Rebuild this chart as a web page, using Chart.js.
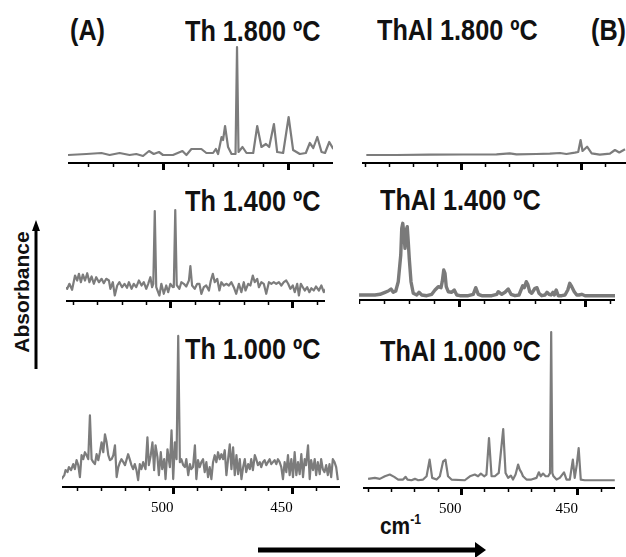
<!DOCTYPE html>
<html>
<head>
<meta charset="utf-8">
<script src="https://cdn.jsdelivr.net/npm/chart.js@4.4.0/dist/chart.umd.min.js"></script>
<style>
  html, body { margin: 0; padding: 0; background: #fff; }
  body { width: 626px; height: 557px; position: relative; overflow: hidden; font-family: "Liberation Sans", Arial, sans-serif; }
  canvas { position: absolute; }
  .lbl { position: absolute; font-weight: bold; font-size: 29px; line-height: 29px; white-space: nowrap; color: #111;
         transform: scaleX(0.87); transform-origin: 0 0; }
  .ylab { position: absolute; left: 21px; top: 292px; font-weight: bold; font-size: 21px; line-height: 21px; white-space: nowrap; color: #111;
          transform: translate(-50%, -50%) rotate(-90deg); }
  .xlab { position: absolute; left: 380px; top: 514px; font-weight: bold; font-size: 24px; line-height: 24px; white-space: nowrap; color: #111;
          transform: scaleX(0.87); transform-origin: 0 0; }
  .xlab sup { font-size: 14px; vertical-align: 10px; line-height: 0; }
  svg { position: absolute; left: 0; top: 0; }
</style>
</head>
<body>

<div class="lbl" style="left:70px;top:16px">(A)</div>
<div class="lbl" style="left:185px;top:17px">Th 1.800 ºC</div>
<div class="lbl" style="left:377px;top:16px">ThAl 1.800 ºC</div>
<div class="lbl" style="left:591px;top:16px">(B)</div>
<div class="lbl" style="left:185px;top:187px">Th 1.400 ºC</div>
<div class="lbl" style="left:380px;top:186px">ThAl 1.400 ºC</div>
<div class="lbl" style="left:185px;top:335px">Th 1.000 ºC</div>
<div class="lbl" style="left:380px;top:337px">ThAl 1.000 ºC</div>
<div class="ylab">Absorbance</div>
<div class="xlab">cm<sup>-1</sup></div>

<svg width="626" height="557">
  <line x1="36" y1="369" x2="36" y2="229" stroke="#000" stroke-width="3"/>
  <polygon points="36,220 32,231 40,231" fill="#000"/>
  <line x1="258" y1="550" x2="478" y2="550" stroke="#000" stroke-width="5"/>
  <polygon points="486,550 475,542 475,558" fill="#000"/>
</svg>

<script>
// wavenumbers (cm-1) and absorbance (a.u.)
const th1800Wave = [538.4, 531.0, 525.0, 521.7, 517.7, 513.7, 511.0, 508.3, 505.9, 504.0, 501.9, 500.3, 496.3, 492.5, 490.9, 488.9, 486.9, 484.9, 482.9, 480.2, 479.1, 478.2, 476.8, 476.2, 475.4, 474.2, 472.8, 471.2, 470.6, 470.0, 468.4, 466.8, 464.1, 462.5, 460.8, 459.0, 457.7, 455.8, 454.5, 452.1, 449.9, 448.1, 445.4, 443.0, 441.4, 440.0, 438.4, 436.7, 435.3, 433.6, 432.0];
const th1800Abs = [0.08, 0.09, 0.10, 0.08, 0.10, 0.08, 0.09, 0.07, 0.12, 0.09, 0.11, 0.08, 0.08, 0.12, 0.08, 0.14, 0.14, 0.14, 0.10, 0.10, 0.14, 0.09, 0.26, 0.23, 0.37, 0.16, 0.09, 0.09, 1.16, 0.11, 0.16, 0.10, 0.10, 0.37, 0.16, 0.19, 0.16, 0.39, 0.11, 0.10, 0.46, 0.13, 0.09, 0.10, 0.20, 0.15, 0.26, 0.11, 0.10, 0.21, 0.14];

const th1400Wave = [543.9, 542.5, 541.6, 540.5, 539.3, 538.4, 537.7, 536.9, 536.1, 535.2, 534.3, 533.4, 532.5, 531.6, 530.6, 529.5, 528.4, 527.5, 526.5, 525.4, 524.8, 523.8, 523.0, 522.0, 521.1, 520.0, 519.0, 518.0, 517.2, 516.1, 515.2, 514.2, 513.1, 512.0, 511.1, 510.1, 509.3, 508.4, 507.7, 507.2, 506.6, 506.0, 504.7, 503.9, 502.9, 501.9, 501.1, 500.2, 499.2, 498.8, 498.2, 497.6, 496.5, 495.7, 494.7, 493.7, 492.6, 492.0, 491.3, 490.2, 489.2, 488.3, 487.5, 486.5, 485.5, 484.4, 483.6, 482.8, 482.0, 481.0, 480.1, 479.3, 478.3, 477.3, 476.2, 475.2, 474.2, 473.2, 472.1, 471.1, 470.1, 469.4, 468.3, 467.4, 466.4, 465.6, 464.6, 463.9, 462.9, 461.9, 460.9, 459.8, 458.8, 457.8, 456.8, 455.7, 454.7, 453.7, 452.7, 451.9, 451.0, 450.0, 449.2, 448.2, 447.5, 446.7, 445.9, 445.1, 444.1, 443.2, 442.4, 441.4, 440.5, 439.3, 438.3, 437.3, 436.4];
const th1400Abs = [0.145, 0.122, 0.172, 0.112, 0.255, 0.205, 0.272, 0.188, 0.265, 0.205, 0.278, 0.188, 0.245, 0.172, 0.238, 0.188, 0.222, 0.178, 0.222, 0.205, 0.122, 0.188, 0.055, 0.155, 0.188, 0.138, 0.172, 0.132, 0.188, 0.122, 0.172, 0.138, 0.205, 0.155, 0.188, 0.122, 0.172, 0.238, 0.138, 0.172, 0.90, 0.138, 0.055, 0.172, 0.072, 0.155, 0.088, 0.172, 0.138, 0.14, 0.91, 0.16, 0.122, 0.188, 0.172, 0.145, 0.205, 0.35, 0.155, 0.122, 0.172, 0.172, 0.072, 0.138, 0.155, 0.105, 0.205, 0.272, 0.188, 0.222, 0.105, 0.188, 0.155, 0.172, 0.155, 0.188, 0.138, 0.072, 0.172, 0.088, 0.188, 0.105, 0.172, 0.155, 0.255, 0.188, 0.222, 0.138, 0.188, 0.172, 0.072, 0.188, 0.172, 0.188, 0.172, 0.188, 0.155, 0.188, 0.205, 0.172, 0.122, 0.155, 0.088, 0.172, 0.055, 0.172, 0.138, 0.105, 0.138, 0.088, 0.128, 0.105, 0.145, 0.105, 0.155, 0.088, 0.122];

const th1000Wave = [546.9, 545.7, 545.2, 544.4, 543.8, 542.9, 542.0, 541.3, 540.6, 539.9, 539.2, 538.5, 537.8, 537.1, 536.4, 535.7, 535.0, 534.3, 533.6, 532.9, 532.2, 531.5, 530.8, 530.1, 529.4, 528.7, 528.0, 527.3, 526.6, 525.9, 525.2, 524.5, 523.8, 523.1, 522.4, 521.8, 521.0, 520.3, 519.7, 519.0, 518.2, 517.6, 516.9, 516.2, 515.5, 514.8, 514.1, 513.4, 512.7, 511.7, 510.9, 510.3, 509.5, 508.8, 508.1, 507.5, 506.7, 506.1, 505.3, 504.7, 503.9, 503.3, 502.5, 501.5, 500.8, 500.1, 499.4, 498.7, 498.0, 497.3, 496.7, 495.9, 495.2, 494.6, 493.8, 493.1, 492.5, 491.8, 491.0, 490.4, 489.7, 489.0, 488.3, 487.6, 486.9, 486.2, 485.5, 484.8, 484.1, 483.4, 482.7, 482.0, 481.3, 480.6, 479.9, 479.2, 478.5, 477.8, 477.1, 476.4, 475.7, 475.0, 474.3, 473.6, 472.9, 472.2, 471.5, 470.8, 470.1, 469.5, 468.7, 468.0, 467.4, 466.7, 465.9, 465.3, 464.6, 463.8, 463.2, 462.5, 461.8, 461.1, 460.4, 459.7, 459.0, 458.3, 457.6, 456.9, 456.2, 455.5, 454.8, 454.1, 453.4, 452.7, 452.0, 451.3, 450.6, 449.9, 449.2, 448.5, 447.8, 447.1, 446.4, 445.7, 445.0, 444.4, 443.6, 442.9, 442.3, 441.5, 440.8, 440.2, 439.5, 438.7, 438.1, 437.4, 436.7, 436.0, 435.3, 434.6, 433.9, 433.2, 432.5, 431.8, 431.1];
const th1000Abs = [0.08, 0.12, 0.17, 0.15, 0.20, 0.17, 0.23, 0.18, 0.27, 0.22, 0.10, 0.32, 0.28, 0.35, 0.32, 0.28, 0.72, 0.28, 0.25, 0.23, 0.33, 0.27, 0.35, 0.45, 0.35, 0.53, 0.45, 0.32, 0.27, 0.28, 0.32, 0.42, 0.10, 0.20, 0.25, 0.28, 0.25, 0.22, 0.27, 0.33, 0.27, 0.22, 0.18, 0.23, 0.17, 0.07, 0.23, 0.18, 0.25, 0.18, 0.50, 0.22, 0.32, 0.45, 0.17, 0.42, 0.30, 0.12, 0.35, 0.18, 0.28, 0.08, 0.38, 0.20, 0.57, 0.08, 0.45, 0.28, 1.52, 0.25, 0.28, 0.22, 0.20, 0.28, 0.12, 0.23, 0.18, 0.20, 0.42, 0.08, 0.27, 0.20, 0.25, 0.28, 0.15, 0.25, 0.10, 0.20, 0.08, 0.25, 0.32, 0.25, 0.35, 0.28, 0.33, 0.28, 0.37, 0.12, 0.28, 0.43, 0.18, 0.40, 0.12, 0.32, 0.13, 0.28, 0.08, 0.20, 0.28, 0.15, 0.23, 0.18, 0.28, 0.17, 0.32, 0.28, 0.22, 0.25, 0.20, 0.25, 0.27, 0.22, 0.25, 0.28, 0.23, 0.25, 0.27, 0.23, 0.28, 0.25, 0.20, 0.08, 0.25, 0.15, 0.32, 0.12, 0.28, 0.10, 0.35, 0.12, 0.25, 0.13, 0.33, 0.10, 0.28, 0.22, 0.42, 0.08, 0.27, 0.17, 0.28, 0.12, 0.25, 0.13, 0.28, 0.18, 0.15, 0.22, 0.12, 0.23, 0.10, 0.28, 0.25, 0.20, 0.07];

const thAl1800Wave = [539.6, 527.1, 513.2, 499.3, 485.4, 479.9, 477.1, 468.8, 463.2, 459.0, 456.3, 452.8, 451.4, 450.4, 449.6, 447.7, 445.8, 442.4, 438.2, 436.1, 434.3, 431.9];
const thAl1800Abs = [0.08, 0.08, 0.083, 0.085, 0.087, 0.097, 0.087, 0.09, 0.093, 0.10, 0.09, 0.103, 0.11, 0.23, 0.12, 0.163, 0.097, 0.083, 0.093, 0.13, 0.105, 0.137];

const thAl1400Wave = [540.7, 534.0, 532.0, 530.0, 528.7, 527.6, 526.7, 525.7, 524.7, 523.7, 523.3, 522.9, 522.4, 522.0, 521.5, 521.1, 520.7, 520.3, 519.6, 518.7, 517.3, 516.4, 515.3, 513.3, 511.3, 510.0, 508.7, 507.6, 507.1, 506.5, 506.0, 505.5, 504.7, 503.3, 502.3, 501.3, 500.0, 496.7, 494.7, 493.7, 492.7, 491.3, 487.3, 485.3, 484.7, 483.3, 482.0, 480.7, 479.6, 478.0, 476.4, 475.6, 474.9, 474.3, 473.5, 472.9, 472.1, 471.3, 470.0, 469.2, 468.4, 467.3, 466.0, 465.2, 464.4, 463.6, 462.8, 462.3, 461.5, 460.7, 459.3, 458.0, 456.9, 456.1, 455.3, 454.3, 453.3, 452.4, 451.3, 450.0, 446.0, 438.0];
const thAl1400Abs = [0.05, 0.05, 0.057, 0.077, 0.09, 0.11, 0.077, 0.09, 0.183, 0.45, 0.717, 0.767, 0.65, 0.517, 0.70, 0.733, 0.583, 0.417, 0.183, 0.067, 0.05, 0.077, 0.05, 0.043, 0.057, 0.10, 0.133, 0.123, 0.183, 0.30, 0.267, 0.133, 0.083, 0.077, 0.10, 0.05, 0.043, 0.043, 0.057, 0.123, 0.057, 0.043, 0.043, 0.057, 0.083, 0.057, 0.077, 0.11, 0.057, 0.043, 0.05, 0.10, 0.143, 0.123, 0.183, 0.157, 0.083, 0.067, 0.117, 0.123, 0.067, 0.043, 0.05, 0.077, 0.057, 0.05, 0.077, 0.05, 0.10, 0.043, 0.043, 0.05, 0.10, 0.167, 0.133, 0.083, 0.05, 0.05, 0.057, 0.043, 0.043, 0.043];

const thAl1000Wave = [540.1, 537.2, 535.1, 532.9, 530.8, 528.9, 527.2, 525.1, 524.0, 523.2, 521.5, 520.0, 518.6, 516.5, 515.0, 513.7, 512.6, 510.7, 509.3, 507.9, 506.9, 505.8, 504.3, 498.6, 496.4, 494.3, 492.9, 491.7, 490.3, 489.3, 488.2, 487.1, 485.7, 484.0, 482.1, 481.1, 480.0, 478.8, 477.9, 476.8, 475.7, 475.0, 474.2, 473.6, 472.1, 470.0, 467.8, 466.8, 466.0, 465.0, 463.9, 462.8, 462.0, 461.5, 461.0, 460.5, 459.2, 457.8, 456.0, 454.9, 453.5, 452.2, 451.4, 450.5, 449.7, 448.8, 447.1, 442.8, 434.2];
const thAl1000Abs = [0.092, 0.102, 0.092, 0.118, 0.135, 0.112, 0.085, 0.085, 0.112, 0.085, 0.078, 0.092, 0.078, 0.085, 0.118, 0.285, 0.102, 0.085, 0.118, 0.268, 0.285, 0.118, 0.085, 0.078, 0.118, 0.135, 0.118, 0.145, 0.118, 0.135, 0.502, 0.118, 0.118, 0.152, 0.592, 0.152, 0.102, 0.125, 0.085, 0.135, 0.235, 0.185, 0.152, 0.118, 0.085, 0.085, 0.102, 0.158, 0.118, 0.145, 0.118, 0.118, 0.15, 1.57, 0.15, 0.118, 0.085, 0.102, 0.158, 0.085, 0.085, 0.285, 0.102, 0.235, 0.402, 0.085, 0.078, 0.078, 0.078];

const tickLabels = [500, 450];

// where each little panel sits on the page
const panels = [
  { wave: th1800Wave, abs: th1800Abs, left: 68, width: 265, top: 43, axisY: 163, min: 432.1, max: 538.4, yMax: 1.2, labels: false },
  { wave: th1400Wave, abs: th1400Abs, left: 66, width: 259, top: 201, axisY: 301, min: 436.8, max: 543.0, yMax: 1.0, labels: false },
  { wave: th1000Wave, abs: th1000Abs, left: 62, width: 278, top: 328, axisY: 488, min: 430.2, max: 546.7, yMax: 1.6, labels: true },
  { wave: thAl1800Wave, abs: thAl1800Abs, left: 362, width: 264, top: 43, axisY: 163, min: 431.5, max: 541.4, yMax: 1.2, labels: false },
  { wave: thAl1400Wave, abs: thAl1400Abs, left: 359, width: 256, top: 200, axisY: 300, min: 438.0, max: 540.4, yMax: 1.0, labels: false, hollow: true },
  { wave: thAl1000Wave, abs: thAl1000Abs, left: 363, width: 252, top: 329, axisY: 489, min: 434.1, max: 542.3, yMax: 1.6, labels: true }
];

function isMajor(ctx) {
  return ctx.tick && Math.round(ctx.tick.value) % 50 === 0;
}

panels.forEach(function (p) {
  const cv = document.createElement('canvas');
  const h = (p.axisY - p.top) + (p.labels ? 34 : 7);
  cv.width = p.width;
  cv.height = h;
  cv.style.left = p.left + 'px';
  cv.style.top = p.top + 'px';
  cv.style.width = p.width + 'px';
  cv.style.height = h + 'px';
  document.body.appendChild(cv);

  const pts = p.wave.map(function (w, i) { return { x: w, y: p.abs[i] }; });
  const datasets = [{
    data: pts,
    borderColor: p.hollow ? '#7a7a7a' : '#7c7c7c',
    borderWidth: p.hollow ? 3.4 : 2.2,
    pointRadius: 0,
    tension: 0,
    borderJoinStyle: 'round'
  }];
  if (p.hollow) {
    datasets.push({ data: pts, borderColor: '#d6d6d6', borderWidth: 1, pointRadius: 0, tension: 0 });
  }

  new Chart(cv, {
    type: 'line',
    data: { datasets: datasets },
    options: {
      responsive: false,
      animation: false,
      devicePixelRatio: 1,
      layout: { padding: 0 },
      plugins: { legend: { display: false }, tooltip: { enabled: false } },
      scales: {
        x: {
          type: 'linear',
          reverse: true,
          min: p.min,
          max: p.max,
          border: { display: true, color: '#000', width: 2 },
          grid: {
            display: true,
            drawOnChartArea: false,
            drawTicks: true,
            tickLength: 7,
            tickColor: '#000',
            tickWidth: function (c) { return isMajor(c) ? 3 : 1.5; },
            tickBorderDash: function (c) { return isMajor(c) ? [] : [3, 20]; }
          },
          ticks: {
            display: p.labels,
            stepSize: 10,
            includeBounds: false,
            autoSkip: false,
            maxRotation: 0,
            align: 'end',
            padding: 5,
            color: '#000',
            font: { family: '"Liberation Serif", "Times New Roman", serif', size: 15 },
            callback: function (v) { return tickLabels.indexOf(Math.round(v)) >= 0 ? String(Math.round(v)) : ''; }
          }
        },
        y: { display: false, min: 0, max: p.yMax }
      }
    }
  });
});
</script>
</body>
</html>
